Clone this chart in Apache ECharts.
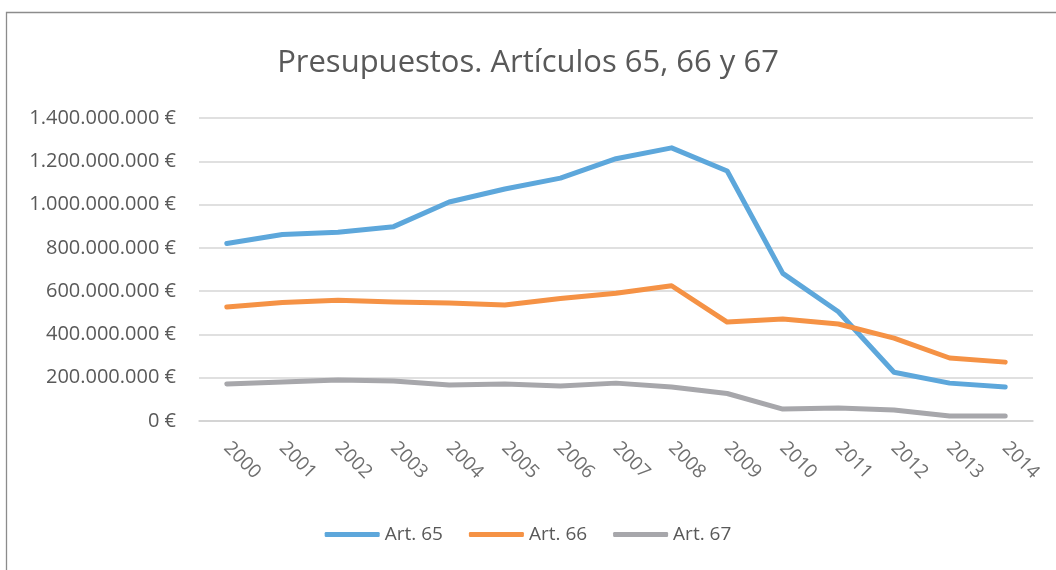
<!DOCTYPE html>
<html><head><meta charset="utf-8">
<script src="https://cdn.jsdelivr.net/npm/echarts@6/dist/echarts.min.js"></script>
<style>html,body{margin:0;padding:0;background:#fff}#c{width:1056px;height:570px}</style>
</head><body><div id="c"></div>
<script>
const years = ['2000','2001','2002','2003','2004','2005','2006','2007','2008','2009','2010','2011','2012','2013','2014'];
const art65 = [820e6,862e6,872e6,898e6,1012e6,1072e6,1122e6,1212e6,1262e6,1155e6,682e6,505e6,225e6,175e6,157e6];
const art66 = [527e6,548e6,558e6,550e6,545e6,536e6,566e6,590e6,625e6,457e6,471e6,448e6,383e6,291e6,272e6];
const art67 = [171e6,180e6,189e6,185e6,166e6,171e6,162e6,175e6,157e6,127e6,55e6,60e6,51e6,23e6,23e6];
const yTicks = {min:0, max:1400e6, interval:200e6};

const font = 'Open Sans, Noto Sans, sans-serif';
function fmt(v){ return String(Math.round(v)).replace(/\B(?=(\d{3})+(?!\d))/g,'.') + ' €'; }
const chart = echarts.init(document.getElementById('c'), null, {renderer:'canvas'});
function s(name, data, color){
  return {name, type:'line', data, symbol:'none', smooth:false,
    lineStyle:{width:5, color, cap:'round', join:'round'}, itemStyle:{color}};
}
chart.setOption({
  animation:false,
  backgroundColor:'#fff',
  graphic:[{type:'rect', shape:{x:6.5,y:12.5,width:1100,height:600}, style:{fill:'none', stroke:'#8c8c8c', lineWidth:1.3}, silent:true}],
  title:{text:'Presupuestos. Artículos 65, 66 y 67', left:'center', top:43,
    textStyle:{fontFamily:font, fontSize:31, fontWeight:'normal', color:'#595959'}},
  legend:{bottom:21, left:'center', itemWidth:55, itemHeight:5, itemGap:26, icon:'roundRect',
    textStyle:{fontFamily:font, fontSize:19, color:'#595959'},
    data:['Art. 65','Art. 66','Art. 67']},
  grid:{left:199, right:23, top:118, bottom:149, containLabel:false},
  xAxis:{type:'category', data:years, boundaryGap:true,
    axisLine:{show:true, lineStyle:{color:'#d0d0d0', width:1.5}}, axisTick:{show:false},
    axisLabel:{rotate:-45, fontFamily:font, fontSize:19, color:'#6f6f6f', margin:24, interval:0}},
  yAxis:{type:'value', min:yTicks.min, max:yTicks.max, interval:yTicks.interval,
    axisLine:{show:false}, axisTick:{show:false},
    splitLine:{lineStyle:{color:'#d6d6d6', width:1.5}},
    axisLabel:{formatter:fmt, fontFamily:font, fontSize:20, color:'#595959', margin:23}},
  series:[s('Art. 65', art65, '#5DA7DB'), s('Art. 66', art66, '#F59245'), s('Art. 67', art67, '#A7A7AB')]
});
</script></body></html>
